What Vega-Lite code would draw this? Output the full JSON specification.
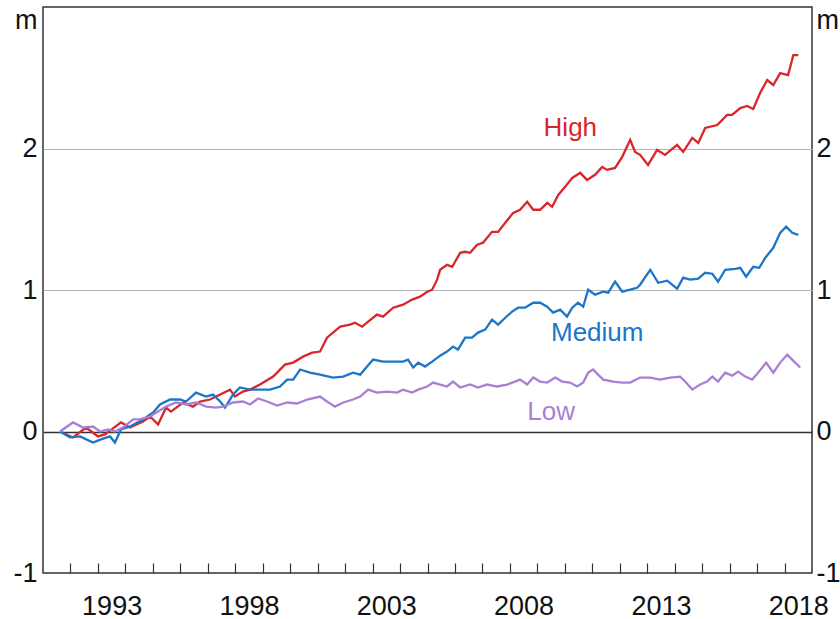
{
  "$schema": "https://vega.github.io/schema/vega-lite/v6.json",
  "width": 769,
  "height": 566,
  "autosize": {"type": "none"},
  "padding": {"left": 43, "top": 7, "right": 28, "bottom": 46},
  "background": "white",
  "config": {"font": "Liberation Sans", "view": {"stroke": "#333333", "strokeWidth": 1.5}},
  "data": {"values": [
    {"s":"High","t":1991.62,"v":0},{"s":"High","t":1992.09,"v":-0.042},{"s":"High","t":1992.57,"v":0.028},{"s":"High","t":1993.00,"v":-0.035},{"s":"High","t":1993.26,"v":-0.021},{"s":"High","t":1993.84,"v":0.064},{"s":"High","t":1994.17,"v":0.028},{"s":"High","t":1994.64,"v":0.071},{"s":"High","t":1994.90,"v":0.106},{"s":"High","t":1995.19,"v":0.049},{"s":"High","t":1995.48,"v":0.169},{"s":"High","t":1995.66,"v":0.141},{"s":"High","t":1996.10,"v":0.205},{"s":"High","t":1996.46,"v":0.176},{"s":"High","t":1996.72,"v":0.212},{"s":"High","t":1997.08,"v":0.226},{"s":"High","t":1997.45,"v":0.261},{"s":"High","t":1997.81,"v":0.296},{"s":"High","t":1997.99,"v":0.247},{"s":"High","t":1998.28,"v":0.282},{"s":"High","t":1998.54,"v":0.296},{"s":"High","t":1998.90,"v":0.332},{"s":"High","t":1999.38,"v":0.388},{"s":"High","t":1999.81,"v":0.473},{"s":"High","t":2000.11,"v":0.487},{"s":"High","t":2000.47,"v":0.529},{"s":"High","t":2000.80,"v":0.557},{"s":"High","t":2001.09,"v":0.565},{"s":"High","t":2001.34,"v":0.663},{"s":"High","t":2001.56,"v":0.699},{"s":"High","t":2001.82,"v":0.741},{"s":"High","t":2002.18,"v":0.755},{"s":"High","t":2002.36,"v":0.769},{"s":"High","t":2002.62,"v":0.741},{"s":"High","t":2002.84,"v":0.776},{"s":"High","t":2003.16,"v":0.826},{"s":"High","t":2003.38,"v":0.812},{"s":"High","t":2003.75,"v":0.875},{"s":"High","t":2004.11,"v":0.896},{"s":"High","t":2004.44,"v":0.932},{"s":"High","t":2004.73,"v":0.953},{"s":"High","t":2004.99,"v":0.988},{"s":"High","t":2005.17,"v":1.002},{"s":"High","t":2005.35,"v":1.073},{"s":"High","t":2005.46,"v":1.143},{"s":"High","t":2005.71,"v":1.178},{"s":"High","t":2005.90,"v":1.164},{"s":"High","t":2006.19,"v":1.263},{"s":"High","t":2006.37,"v":1.270},{"s":"High","t":2006.55,"v":1.263},{"s":"High","t":2006.81,"v":1.320},{"s":"High","t":2007.02,"v":1.334},{"s":"High","t":2007.35,"v":1.411},{"s":"High","t":2007.57,"v":1.411},{"s":"High","t":2007.83,"v":1.475},{"s":"High","t":2008.12,"v":1.545},{"s":"High","t":2008.37,"v":1.567},{"s":"High","t":2008.63,"v":1.623},{"s":"High","t":2008.85,"v":1.567},{"s":"High","t":2009.10,"v":1.567},{"s":"High","t":2009.36,"v":1.616},{"s":"High","t":2009.54,"v":1.588},{"s":"High","t":2009.76,"v":1.672},{"s":"High","t":2010.01,"v":1.729},{"s":"High","t":2010.27,"v":1.792},{"s":"High","t":2010.56,"v":1.828},{"s":"High","t":2010.81,"v":1.778},{"s":"High","t":2011.10,"v":1.814},{"s":"High","t":2011.36,"v":1.870},{"s":"High","t":2011.54,"v":1.849},{"s":"High","t":2011.83,"v":1.863},{"s":"High","t":2012.09,"v":1.941},{"s":"High","t":2012.38,"v":2.061},{"s":"High","t":2012.56,"v":1.976},{"s":"High","t":2012.74,"v":1.955},{"s":"High","t":2013.03,"v":1.884},{"s":"High","t":2013.36,"v":1.990},{"s":"High","t":2013.65,"v":1.955},{"s":"High","t":2014.09,"v":2.025},{"s":"High","t":2014.31,"v":1.976},{"s":"High","t":2014.64,"v":2.075},{"s":"High","t":2014.86,"v":2.039},{"s":"High","t":2015.11,"v":2.145},{"s":"High","t":2015.55,"v":2.166},{"s":"High","t":2015.91,"v":2.237},{"s":"High","t":2016.09,"v":2.237},{"s":"High","t":2016.39,"v":2.286},{"s":"High","t":2016.64,"v":2.301},{"s":"High","t":2016.86,"v":2.279},{"s":"High","t":2017.11,"v":2.392},{"s":"High","t":2017.37,"v":2.484},{"s":"High","t":2017.59,"v":2.449},{"s":"High","t":2017.84,"v":2.533},{"s":"High","t":2018.13,"v":2.519},{"s":"High","t":2018.32,"v":2.660},{"s":"High","t":2018.50,"v":2.660},
    {"s":"Medium","t":1991.62,"v":0},{"s":"Medium","t":1991.98,"v":-0.042},{"s":"Medium","t":1992.35,"v":-0.035},{"s":"Medium","t":1992.82,"v":-0.078},{"s":"Medium","t":1993.11,"v":-0.056},{"s":"Medium","t":1993.44,"v":-0.035},{"s":"Medium","t":1993.62,"v":-0.078},{"s":"Medium","t":1993.84,"v":0.014},{"s":"Medium","t":1994.17,"v":0.035},{"s":"Medium","t":1994.64,"v":0.085},{"s":"Medium","t":1995.01,"v":0.134},{"s":"Medium","t":1995.26,"v":0.191},{"s":"Medium","t":1995.63,"v":0.226},{"s":"Medium","t":1995.99,"v":0.226},{"s":"Medium","t":1996.21,"v":0.212},{"s":"Medium","t":1996.57,"v":0.275},{"s":"Medium","t":1996.94,"v":0.247},{"s":"Medium","t":1997.19,"v":0.261},{"s":"Medium","t":1997.45,"v":0.212},{"s":"Medium","t":1997.63,"v":0.169},{"s":"Medium","t":1997.92,"v":0.261},{"s":"Medium","t":1998.17,"v":0.311},{"s":"Medium","t":1998.54,"v":0.296},{"s":"Medium","t":1998.90,"v":0.296},{"s":"Medium","t":1999.27,"v":0.296},{"s":"Medium","t":1999.63,"v":0.318},{"s":"Medium","t":1999.89,"v":0.367},{"s":"Medium","t":2000.11,"v":0.367},{"s":"Medium","t":2000.36,"v":0.438},{"s":"Medium","t":2000.72,"v":0.416},{"s":"Medium","t":2001.09,"v":0.402},{"s":"Medium","t":2001.56,"v":0.381},{"s":"Medium","t":2001.93,"v":0.388},{"s":"Medium","t":2002.29,"v":0.416},{"s":"Medium","t":2002.55,"v":0.402},{"s":"Medium","t":2002.80,"v":0.459},{"s":"Medium","t":2003.02,"v":0.508},{"s":"Medium","t":2003.38,"v":0.494},{"s":"Medium","t":2003.75,"v":0.494},{"s":"Medium","t":2004.11,"v":0.494},{"s":"Medium","t":2004.29,"v":0.508},{"s":"Medium","t":2004.48,"v":0.452},{"s":"Medium","t":2004.66,"v":0.487},{"s":"Medium","t":2004.91,"v":0.459},{"s":"Medium","t":2005.17,"v":0.494},{"s":"Medium","t":2005.46,"v":0.536},{"s":"Medium","t":2005.71,"v":0.565},{"s":"Medium","t":2005.93,"v":0.600},{"s":"Medium","t":2006.11,"v":0.579},{"s":"Medium","t":2006.37,"v":0.663},{"s":"Medium","t":2006.62,"v":0.663},{"s":"Medium","t":2006.84,"v":0.699},{"s":"Medium","t":2007.10,"v":0.720},{"s":"Medium","t":2007.35,"v":0.790},{"s":"Medium","t":2007.57,"v":0.755},{"s":"Medium","t":2007.83,"v":0.804},{"s":"Medium","t":2008.08,"v":0.847},{"s":"Medium","t":2008.30,"v":0.875},{"s":"Medium","t":2008.55,"v":0.875},{"s":"Medium","t":2008.85,"v":0.910},{"s":"Medium","t":2009.10,"v":0.910},{"s":"Medium","t":2009.36,"v":0.882},{"s":"Medium","t":2009.57,"v":0.840},{"s":"Medium","t":2009.83,"v":0.861},{"s":"Medium","t":2010.08,"v":0.812},{"s":"Medium","t":2010.27,"v":0.875},{"s":"Medium","t":2010.48,"v":0.910},{"s":"Medium","t":2010.67,"v":0.882},{"s":"Medium","t":2010.85,"v":1.002},{"s":"Medium","t":2011.10,"v":0.967},{"s":"Medium","t":2011.40,"v":0.988},{"s":"Medium","t":2011.58,"v":0.981},{"s":"Medium","t":2011.83,"v":1.059},{"s":"Medium","t":2012.09,"v":0.988},{"s":"Medium","t":2012.38,"v":1.002},{"s":"Medium","t":2012.63,"v":1.016},{"s":"Medium","t":2012.74,"v":1.037},{"s":"Medium","t":2013.11,"v":1.143},{"s":"Medium","t":2013.40,"v":1.051},{"s":"Medium","t":2013.73,"v":1.066},{"s":"Medium","t":2014.09,"v":1.009},{"s":"Medium","t":2014.31,"v":1.087},{"s":"Medium","t":2014.56,"v":1.073},{"s":"Medium","t":2014.86,"v":1.080},{"s":"Medium","t":2015.11,"v":1.122},{"s":"Medium","t":2015.37,"v":1.115},{"s":"Medium","t":2015.58,"v":1.059},{"s":"Medium","t":2015.84,"v":1.143},{"s":"Medium","t":2016.20,"v":1.150},{"s":"Medium","t":2016.39,"v":1.157},{"s":"Medium","t":2016.60,"v":1.094},{"s":"Medium","t":2016.86,"v":1.164},{"s":"Medium","t":2017.08,"v":1.157},{"s":"Medium","t":2017.30,"v":1.228},{"s":"Medium","t":2017.59,"v":1.298},{"s":"Medium","t":2017.84,"v":1.404},{"s":"Medium","t":2018.06,"v":1.447},{"s":"Medium","t":2018.28,"v":1.404},{"s":"Medium","t":2018.50,"v":1.390},
    {"s":"Low","t":1991.62,"v":0},{"s":"Low","t":1992.09,"v":0.064},{"s":"Low","t":1992.46,"v":0.028},{"s":"Low","t":1992.82,"v":0.035},{"s":"Low","t":1993.08,"v":0},{"s":"Low","t":1993.37,"v":0.014},{"s":"Low","t":1993.62,"v":0},{"s":"Low","t":1993.91,"v":0.028},{"s":"Low","t":1994.28,"v":0.085},{"s":"Low","t":1994.53,"v":0.085},{"s":"Low","t":1994.90,"v":0.106},{"s":"Low","t":1995.19,"v":0.141},{"s":"Low","t":1995.48,"v":0.176},{"s":"Low","t":1995.84,"v":0.205},{"s":"Low","t":1996.21,"v":0.191},{"s":"Low","t":1996.57,"v":0.205},{"s":"Low","t":1996.94,"v":0.176},{"s":"Low","t":1997.30,"v":0.169},{"s":"Low","t":1997.56,"v":0.176},{"s":"Low","t":1997.92,"v":0.205},{"s":"Low","t":1998.28,"v":0.212},{"s":"Low","t":1998.54,"v":0.191},{"s":"Low","t":1998.83,"v":0.233},{"s":"Low","t":1999.16,"v":0.212},{"s":"Low","t":1999.52,"v":0.183},{"s":"Low","t":1999.89,"v":0.205},{"s":"Low","t":2000.25,"v":0.198},{"s":"Low","t":2000.62,"v":0.226},{"s":"Low","t":2001.09,"v":0.247},{"s":"Low","t":2001.34,"v":0.212},{"s":"Low","t":2001.63,"v":0.176},{"s":"Low","t":2001.93,"v":0.205},{"s":"Low","t":2002.29,"v":0.226},{"s":"Low","t":2002.55,"v":0.247},{"s":"Low","t":2002.84,"v":0.296},{"s":"Low","t":2003.16,"v":0.275},{"s":"Low","t":2003.53,"v":0.282},{"s":"Low","t":2003.89,"v":0.275},{"s":"Low","t":2004.11,"v":0.296},{"s":"Low","t":2004.44,"v":0.275},{"s":"Low","t":2004.66,"v":0.296},{"s":"Low","t":2004.99,"v":0.318},{"s":"Low","t":2005.20,"v":0.346},{"s":"Low","t":2005.46,"v":0.332},{"s":"Low","t":2005.71,"v":0.318},{"s":"Low","t":2005.93,"v":0.353},{"s":"Low","t":2006.19,"v":0.311},{"s":"Low","t":2006.55,"v":0.332},{"s":"Low","t":2006.84,"v":0.311},{"s":"Low","t":2007.17,"v":0.332},{"s":"Low","t":2007.53,"v":0.318},{"s":"Low","t":2007.90,"v":0.332},{"s":"Low","t":2008.37,"v":0.367},{"s":"Low","t":2008.63,"v":0.332},{"s":"Low","t":2008.85,"v":0.381},{"s":"Low","t":2009.10,"v":0.353},{"s":"Low","t":2009.36,"v":0.346},{"s":"Low","t":2009.65,"v":0.381},{"s":"Low","t":2009.90,"v":0.353},{"s":"Low","t":2010.19,"v":0.346},{"s":"Low","t":2010.45,"v":0.318},{"s":"Low","t":2010.67,"v":0.346},{"s":"Low","t":2010.85,"v":0.416},{"s":"Low","t":2011.03,"v":0.438},{"s":"Low","t":2011.21,"v":0.402},{"s":"Low","t":2011.40,"v":0.367},{"s":"Low","t":2011.76,"v":0.353},{"s":"Low","t":2012.09,"v":0.346},{"s":"Low","t":2012.38,"v":0.346},{"s":"Low","t":2012.74,"v":0.381},{"s":"Low","t":2013.11,"v":0.381},{"s":"Low","t":2013.47,"v":0.367},{"s":"Low","t":2013.84,"v":0.381},{"s":"Low","t":2014.20,"v":0.388},{"s":"Low","t":2014.38,"v":0.353},{"s":"Low","t":2014.64,"v":0.296},{"s":"Low","t":2014.93,"v":0.332},{"s":"Low","t":2015.18,"v":0.353},{"s":"Low","t":2015.37,"v":0.388},{"s":"Low","t":2015.58,"v":0.353},{"s":"Low","t":2015.84,"v":0.416},{"s":"Low","t":2016.09,"v":0.395},{"s":"Low","t":2016.31,"v":0.423},{"s":"Low","t":2016.57,"v":0.388},{"s":"Low","t":2016.82,"v":0.367},{"s":"Low","t":2017.04,"v":0.416},{"s":"Low","t":2017.33,"v":0.487},{"s":"Low","t":2017.59,"v":0.416},{"s":"Low","t":2017.84,"v":0.487},{"s":"Low","t":2018.10,"v":0.543},{"s":"Low","t":2018.35,"v":0.494},{"s":"Low","t":2018.57,"v":0.452}
  ]},
  "layer": [
    {
      "mark": {"type": "line", "strokeWidth": 2.3},
      "encoding": {
        "x": {"field": "t", "type": "quantitative",
          "scale": {"domain": [1991, 2019], "nice": false, "zero": false},
          "axis": {"orient": "bottom", "title": null, "values": [1992,1993,1994,1995,1996,1997,1998,1999,2000,2001,2002,2003,2004,2005,2006,2007,2008,2009,2010,2011,2012,2013,2014,2015,2016,2017,2018],
            "labels": false, "tickSize": -10, "tickColor": "#333333", "tickWidth": 1.2, "domain": false, "grid": false}},
        "y": {"field": "v", "type": "quantitative",
          "scale": {"domain": [-1, 3], "nice": false, "zero": false},
          "axis": {"orient": "left", "title": null, "values": [-1, 0, 1, 2, 3],
            "labelExpr": "datum.value == 3 ? 'm' : '' + datum.value",
            "ticks": false, "domain": false, "grid": true,
            "gridColor": {"condition": {"test": "datum.value == 0", "value": "#333333"}, "value": "#b4b4b4"},
            "gridWidth": {"condition": {"test": "datum.value == 0", "value": 1.6}, "value": 1.2},
            "gridOpacity": {"condition": {"test": "datum.value == -1 || datum.value == 3", "value": 0}, "value": 1},
            "labelFontSize": 27, "labelColor": "#111111", "labelPadding": 6, "labelFont": "Liberation Sans",
            "labelBaseline": {"condition": {"test": "datum.value == 3", "value": "top"}, "value": "middle"},
            "labelOverlap": false, "labelFlush": false, "labelBound": false}},
        "color": {"field": "s", "type": "nominal",
          "scale": {"domain": ["High", "Medium", "Low"], "range": ["#d9262a", "#1b75c9", "#a97fd6"]},
          "legend": null}
      }
    },
    {
      "data": {"values": [{}]},
      "mark": {"type": "text", "fontSize": 26, "color": "#d9262a", "font": "Liberation Sans"},
      "encoding": {
        "x": {"datum": 2010.2, "type": "quantitative",
          "axis": {"orient": "bottom", "title": null, "values": [1993, 1998, 2003, 2008, 2013, 2018],
            "format": "d", "labelOffset": 13.7, "ticks": false, "domain": false, "grid": false,
            "labelOverlap": false, "labelFlush": false, "labelBound": false,
            "labelFontSize": 27, "labelColor": "#111111", "labelPadding": 20, "labelFont": "Liberation Sans"}},
        "y": {"datum": 2.145, "type": "quantitative",
          "axis": {"orient": "right", "title": null, "values": [-1, 0, 1, 2, 3],
            "labelExpr": "datum.value == 3 ? 'm' : '' + datum.value",
            "ticks": false, "domain": false, "grid": false,
            "labelFontSize": 27, "labelColor": "#111111", "labelPadding": 4, "labelFont": "Liberation Sans",
            "labelBaseline": {"condition": {"test": "datum.value == 3", "value": "top"}, "value": "middle"},
            "labelOverlap": false, "labelFlush": false, "labelBound": false}},
        "text": {"value": "High"}
      }
    },
    {
      "data": {"values": [{}]},
      "mark": {"type": "text", "fontSize": 26, "color": "#1b75c9", "font": "Liberation Sans"},
      "encoding": {
        "x": {"datum": 2011.18, "type": "quantitative", "axis": null},
        "y": {"datum": 0.699, "type": "quantitative", "axis": null},
        "text": {"value": "Medium"}
      }
    },
    {
      "data": {"values": [{}]},
      "mark": {"type": "text", "fontSize": 26, "color": "#a97fd6", "font": "Liberation Sans"},
      "encoding": {
        "x": {"datum": 2009.5, "type": "quantitative", "axis": null},
        "y": {"datum": 0.141, "type": "quantitative", "axis": null},
        "text": {"value": "Low"}
      }
    }
  ],
  "resolve": {"axis": {"x": "independent", "y": "independent"}}
}
